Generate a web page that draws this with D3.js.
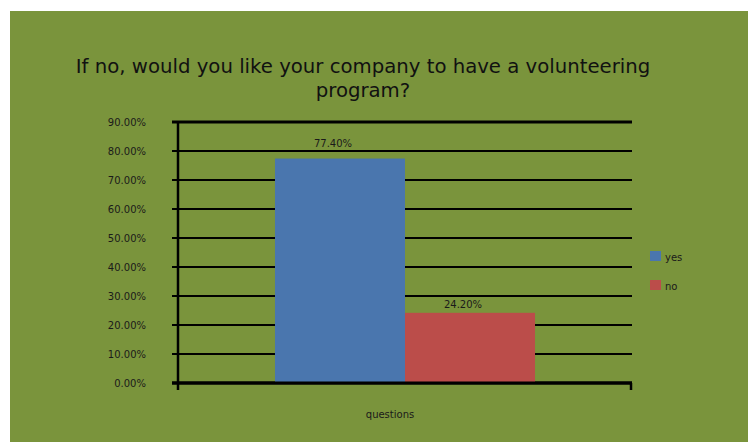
<!DOCTYPE html>
<html>
<head>
<meta charset="utf-8">
<script src="https://cdn.jsdelivr.net/npm/d3@7"></script>
<style>
  html, body { margin: 0; padding: 0; background: #ffffff; }
  svg { display: block; }
  text { font-family: "DejaVu Sans", sans-serif; }
</style>
</head>
<body>
<svg id="chart" width="748" height="442"></svg>
<script>
const titleLines = ["If no, would you like your company to have a volunteering", "program?"];
const categories = ["questions"];
const seriesNames = ["yes", "no"];
const seriesValues = [77.4, 24.2];
const seriesColors = ["#4a76ae", "#bb4d4a"];
const yTicks = [0, 10, 20, 30, 40, 50, 60, 70, 80, 90];

const svg = d3.select("#chart");
const W = 748, H = 442;

svg.append("rect").attr("x", 10).attr("y", 11).attr("width", W - 10).attr("height", H - 11)
  .attr("fill", "#7a943c");

// title
const title = svg.append("text").attr("text-anchor", "middle").attr("fill", "#111")
  .attr("font-size", 19.7);
titleLines.forEach((l, i) => {
  title.append("tspan").attr("x", 363).attr("y", 73 + i * 24).text(l);
});

const x0 = 178, x1 = 632, yTop = 122, yBot = 383;
const y = d3.scaleLinear().domain([0, 90]).range([yBot, yTop]);
const xBand = d3.scaleBand().domain(categories).range([x0, x1]).paddingInner(0).paddingOuter(0.373);
const xSub = d3.scaleBand().domain(seriesNames).range([0, xBand.bandwidth()]);

const g = svg.append("g");

// gridlines
g.selectAll("line.grid").data(yTicks).enter().append("line")
  .attr("x1", x0 - 6).attr("x2", x1)
  .attr("y1", d => y(d)).attr("y2", d => y(d))
  .attr("stroke", "#000")
  .attr("stroke-width", d => (d === 0 || d === 90) ? 3 : 2);

// bars
const cat = categories[0];
g.selectAll("rect.bar").data(seriesNames).enter().append("rect")
  .attr("x", d => xBand(cat) + xSub(d))
  .attr("width", xSub.bandwidth())
  .attr("y", (d, i) => y(seriesValues[i]))
  .attr("height", (d, i) => yBot - y(seriesValues[i]))
  .attr("fill", (d, i) => seriesColors[i]);

// zero line on top of bars
g.append("line").attr("x1", x0 - 6).attr("x2", x1).attr("y1", yBot).attr("y2", yBot)
  .attr("stroke", "#000").attr("stroke-width", 3);

// y axis
g.append("line").attr("x1", x0).attr("x2", x0).attr("y1", yTop - 1).attr("y2", yBot + 7)
  .attr("stroke", "#000").attr("stroke-width", 2.5);
// right end tick
g.append("line").attr("x1", x1 - 1).attr("x2", x1 - 1).attr("y1", yBot).attr("y2", yBot + 7)
  .attr("stroke", "#000").attr("stroke-width", 2.5);

// y tick labels
g.selectAll("text.ytick").data(yTicks).enter().append("text")
  .attr("x", 146).attr("y", d => y(d) + 4)
  .attr("text-anchor", "end").attr("font-size", 10).attr("fill", "#1a1a1a")
  .text(d => d3.format(".2f")(d) + "%");

// value labels
g.selectAll("text.val").data(seriesNames).enter().append("text")
  .attr("x", d => xBand(cat) + xSub(d) + xSub.bandwidth() / 2 - 7)
  .attr("y", (d, i) => y(seriesValues[i]) - (seriesValues[i] > 50 ? 12 : 5))
  .attr("text-anchor", "middle").attr("font-size", 10).attr("fill", "#1a1a1a")
  .text((d, i) => d3.format(".2f")(seriesValues[i]) + "%");

// category label
g.selectAll("text.cat").data(categories).enter().append("text")
  .attr("x", d => xBand(d) + xBand.bandwidth() / 2 - 15)
  .attr("y", 418)
  .attr("text-anchor", "middle").attr("font-size", 10).attr("fill", "#1a1a1a")
  .text(d => d);

// legend
const leg = svg.append("g");
seriesNames.forEach((s, i) => {
  leg.append("rect").attr("x", 650).attr("y", 251 + i * 29).attr("width", 11).attr("height", 10)
    .attr("fill", seriesColors[i]);
  leg.append("text").attr("x", 665).attr("y", 261 + i * 29).attr("font-size", 10)
    .attr("fill", "#1a1a1a").text(s);
});
</script>
</body>
</html>
